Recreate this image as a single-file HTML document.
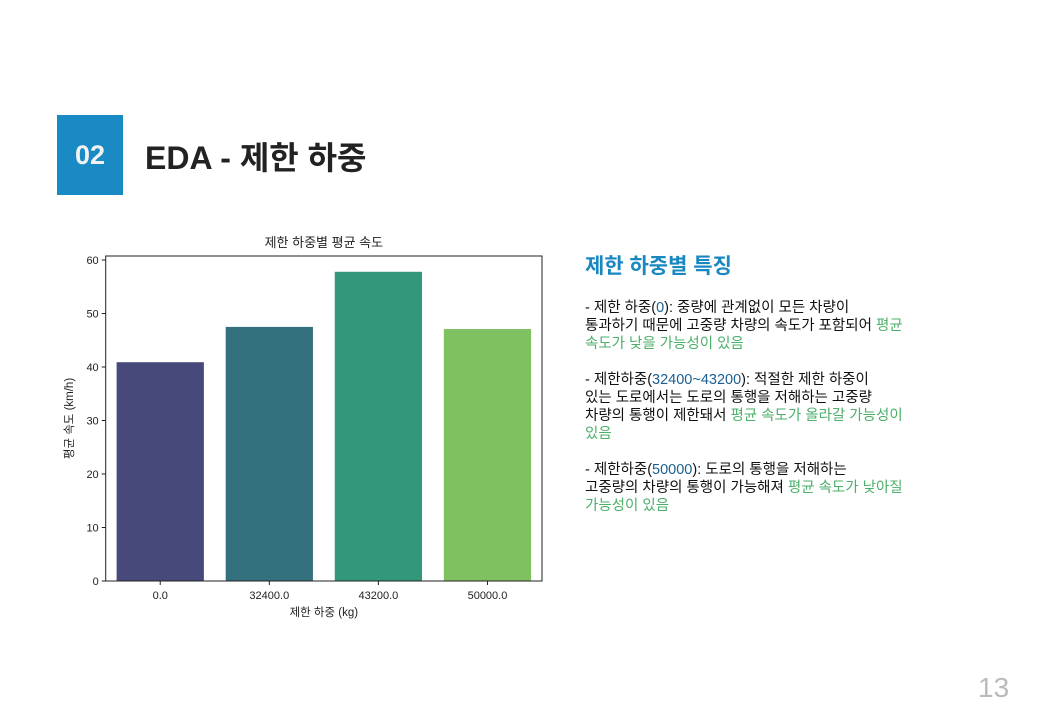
<!DOCTYPE html>
<html><head><meta charset="utf-8">
<style>
body{margin:0;width:1040px;height:720px;background:#fff;position:relative;overflow:hidden;font-family:"Liberation Sans","Noto Sans CJK KR",sans-serif;}
.abs{position:absolute;}
#num{left:57px;top:115px;width:66px;height:80px;background:#1a8ac4;color:#f2f2f2;font-weight:bold;font-size:27px;display:flex;align-items:center;justify-content:center;}
#title{left:145px;top:136px;font-size:32px;font-weight:bold;color:#222;line-height:44px;}
#feat{left:585px;top:252px;font-size:21px;font-weight:bold;color:#1a88c0;line-height:30px;}
#body{left:585px;top:299px;font-size:14.5px;line-height:18px;color:#111;width:380px;}
.g{color:#4caf6a}.b{color:#1a5f8f}
#page{left:978px;top:672px;font-size:28px;color:#bbb;font-weight:300;}
</style></head><body>
<div id="num" class="abs">02</div>
<div id="title" class="abs">EDA - 제한 하중</div>
<svg class="abs" style="left:0;top:0" width="1040" height="720" id="chart"></svg>
<div id="feat" class="abs">제한 하중별 특징</div>
<div id="body" class="abs">
- 제한 하중(<span class="b">0</span>): 중량에 관계없이 모든 차량이<br>통과하기 때문에 고중량 차량의 속도가 포함되어 <span class="g">평균<br>속도가 낮을 가능성이 있음</span><br><br>
- 제한하중(<span class="b">32400~43200</span>): 적절한 제한 하중이<br>있는 도로에서는 도로의 통행을 저해하는 고중량<br>차량의 통행이 제한돼서 <span class="g">평균 속도가 올라갈 가능성이<br>있음</span><br><br>
- 제한하중(<span class="b">50000</span>): 도로의 통행을 저해하는<br>고중량의 차량의 통행이 가능해져 <span class="g">평균 속도가 낮아질<br>가능성이 있음</span>
</div>
<div id="page" class="abs">13</div>
<script>
const categories=["0.0","32400.0","43200.0","50000.0"];
const values=[40.9,47.5,57.8,47.1];
const colors=["#48497b","#35707f","#33977b","#7fc161"];
const yTicks=[0,10,20,30,40,50,60];
const svg=document.getElementById('chart');
const NS="http://www.w3.org/2000/svg";
const L=105.7,R=542,T=256,B=581,yMax=60.75;
const y=v=>B-(v/yMax)*(B-T);
const slot=(R-L)/categories.length;
const x=i=>L+slot*(i+0.5);
function mk(tag,attrs,txt){const e=document.createElementNS(NS,tag);for(const k in attrs)e.setAttribute(k,attrs[k]);if(txt!==undefined)e.textContent=txt;svg.appendChild(e);return e;}
const F='"Liberation Sans","Noto Sans CJK KR",sans-serif';
values.forEach((v,i)=>{
 const r=mk('rect',{x:x(i)-slot*0.4,y:y(v),width:slot*0.8,height:B-y(v),fill:colors[i]});
 
 
});
const frame=mk('rect',{x:L,y:T,width:R-L,height:B-T,fill:'none',stroke:'#222','stroke-width':1});


yTicks.forEach(t=>{
 mk('line',{x1:L-4,x2:L,y1:y(t),y2:y(t),stroke:'#222'});
 const tx=mk('text',{x:L-7,y:y(t)+4,'text-anchor':'end','font-size':11,fill:'#222','font-family':F},t);
 
 
});
categories.forEach((c,i)=>{
 mk('line',{x1:x(i),x2:x(i),y1:B,y2:B+4,stroke:'#222'});
 const tx=mk('text',{x:x(i),y:B+18,'text-anchor':'middle','font-size':11,fill:'#222','font-family':F},c);
 
 
});
const ct=mk('text',{x:(L+R)/2,y:247,'text-anchor':'middle','font-size':13,fill:'#222','font-family':F},'제한 하중별 평균 속도');


const xt=mk('text',{x:(L+R)/2,y:616,'text-anchor':'middle','font-size':11.5,fill:'#222','font-family':F},'제한 하중 (kg)');


const yt=mk('text',{x:0,y:0,'text-anchor':'middle','font-size':11.5,fill:'#222','font-family':F,transform:'translate(73,'+((T+B)/2)+') rotate(-90)'},'평균 속도 (km/h)');


</script>
</body></html>
